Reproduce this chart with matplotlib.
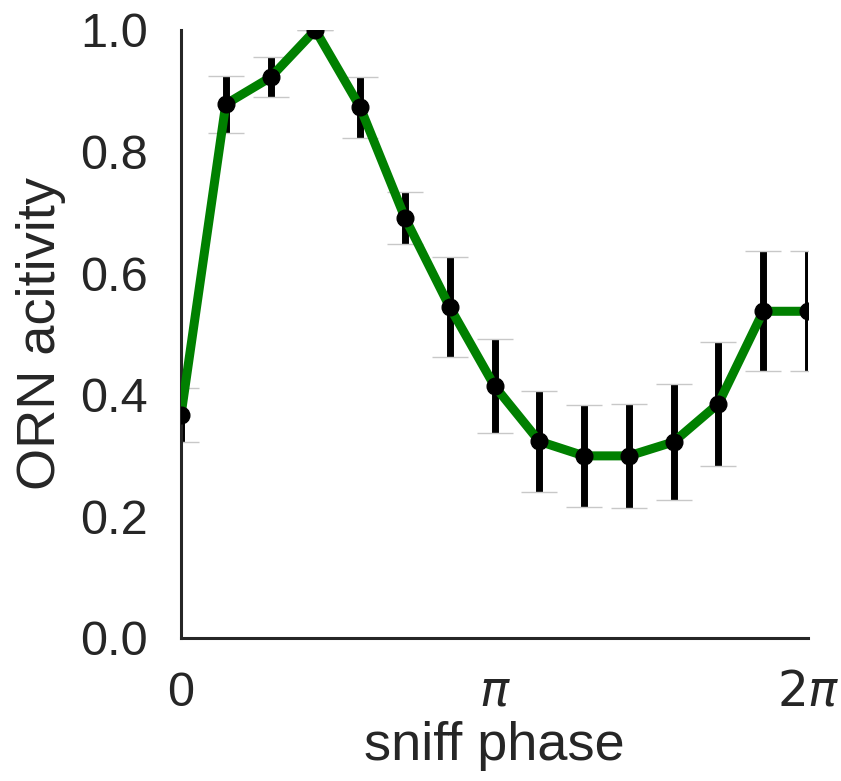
import matplotlib
matplotlib.use("Agg")
import matplotlib.pyplot as plt
import numpy as np

# Mittlere ORN-Aktivität über die Schnüffelphase (15 Phasenbins, 0..2pi)
phase = np.linspace(0.0, 2.0*np.pi, 15)
aktivitaet = [0.366, 0.878, 0.922, 1.000, 0.873, 0.691, 0.544, 0.414,
              0.323, 0.299, 0.299, 0.322, 0.385, 0.537, 0.537]
fehler = [0.044, 0.047, 0.033, 0.000, 0.050, 0.043, 0.083, 0.078,
          0.083, 0.084, 0.085, 0.095, 0.102, 0.099, 0.099]

x_ticks = [0.0, np.pi, 2.0*np.pi]
x_ticklabels = ["0", r"$\pi$", r"$2\pi$"]
y_ticks = [0.0, 0.2, 0.4, 0.6, 0.8, 1.0]

plt.rcParams.update({
    "font.family": ["Liberation Sans", "DejaVu Sans"],
    "font.size": 35,
    "text.color": "#262626",
    "axes.labelcolor": "#262626",
    "xtick.color": "#262626",
    "ytick.color": "#262626",
})

fig = plt.figure(figsize=(8.41, 7.81), dpi=100)
ax = fig.add_axes([0.2152, 0.1837, 0.7456, 0.7779])

# Fehlerbalken zuerst, darüber die grüne Kurve und die Punkte
_, caps, bars = ax.errorbar(phase, aktivitaet, yerr=fehler, fmt="none",
                            ecolor="black", elinewidth=5.0,
                            capsize=13, capthick=1.0, zorder=2)
for cap in caps:
    cap.set_color("#c8c8c8")
    cap.set_markeredgecolor("#c8c8c8")
ax.plot(phase, aktivitaet, color="green", linewidth=6.5, zorder=3)
ax.plot(phase, aktivitaet, "o", color="black", markersize=12, zorder=4)

ax.set_xlim(0.0, 2.0*np.pi)
ax.set_ylim(0.0, 1.0)
ax.set_xticks(x_ticks)
ax.set_xticklabels(x_ticklabels)
ax.set_yticks(y_ticks)
ax.set_yticklabels([f"{v:.1f}" for v in y_ticks])
ax.tick_params(axis="both", length=0, pad=24, labelsize=35)

ax.set_xlabel("sniff phase", fontsize=39, labelpad=4)
ax.set_ylabel("ORN acitivity", fontsize=39, labelpad=10)

for side in ["top", "right"]:
    ax.spines[side].set_visible(False)
for side in ["left", "bottom"]:
    ax.spines[side].set_linewidth(2.2)
    ax.spines[side].set_color("#262626")

fig.savefig("out.png", dpi=100)
